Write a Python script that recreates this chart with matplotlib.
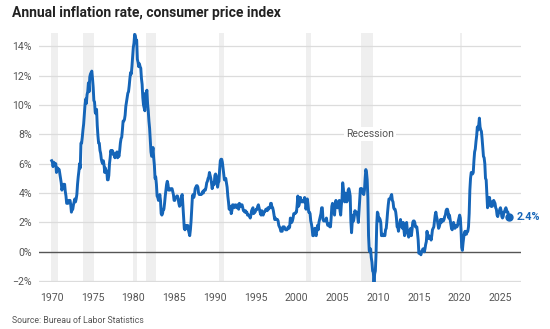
import numpy as np
import matplotlib
matplotlib.use('Agg')
import matplotlib.pyplot as plt

# ---------------------------------------------------------------------------
# data: year-over-year CPI change (%), monthly, starting Jan 1970
# (Oct 2025 was not published, kept as None and skipped when plotting)
# ---------------------------------------------------------------------------
start_year = 1970
cpi_yoy = [
    6.2, 6.1, 5.8, 6.1, 6.0, 6.0, 6.0, 5.4, 5.7, 5.7, 5.6, 5.6,   # 1970
    5.3, 5.0, 4.7, 4.2, 4.4, 4.6, 4.4, 4.6, 4.1, 3.8, 3.3, 3.3,   # 1971
    3.3, 3.5, 3.5, 3.5, 3.2, 2.7, 2.9, 2.9, 3.2, 3.4, 3.6, 3.4,   # 1972
    3.6, 3.9, 4.6, 5.1, 5.5, 6.0, 5.7, 7.4, 7.4, 7.8, 8.3, 8.7,   # 1973
    9.4, 10.0, 10.4, 10.1, 10.7, 10.9, 11.5, 10.9, 11.9, 12.1, 12.2, 12.3,  # 1974
    11.8, 11.2, 10.3, 10.2, 9.5, 9.4, 9.7, 8.6, 7.9, 7.4, 7.4, 6.9,  # 1975
    6.7, 6.3, 6.1, 6.0, 6.2, 5.9, 5.4, 5.7, 5.5, 5.5, 4.9, 4.9,   # 1976
    5.2, 6.0, 6.4, 6.9, 6.7, 6.9, 6.8, 6.6, 6.6, 6.4, 6.7, 6.7,   # 1977
    6.8, 6.4, 6.6, 6.5, 6.9, 7.4, 7.7, 7.8, 8.3, 8.9, 8.9, 9.0,   # 1978
    9.3, 9.9, 10.2, 10.5, 10.8, 10.9, 11.3, 11.8, 12.2, 12.1, 12.6, 13.3,  # 1979
    13.9, 14.2, 14.8, 14.7, 14.4, 14.4, 13.1, 12.9, 12.6, 12.8, 12.6, 12.5,  # 1980
    11.8, 11.4, 10.5, 10.0, 9.8, 9.6, 10.8, 10.8, 11.0, 10.1, 9.6, 8.9,  # 1981
    8.4, 7.6, 6.8, 6.5, 6.7, 7.1, 6.4, 5.9, 5.0, 5.1, 4.6, 3.8,   # 1982
    3.7, 3.5, 3.6, 3.9, 3.5, 2.6, 2.5, 2.6, 2.9, 2.9, 3.3, 3.8,   # 1983
    4.2, 4.6, 4.8, 4.6, 4.2, 4.2, 4.2, 4.3, 4.3, 4.3, 4.1, 3.9,   # 1984
    3.5, 3.5, 3.7, 3.7, 3.8, 3.8, 3.6, 3.3, 3.1, 3.2, 3.5, 3.8,   # 1985
    3.9, 3.1, 2.3, 1.6, 1.5, 1.8, 1.6, 1.6, 1.8, 1.5, 1.3, 1.1,   # 1986
    1.5, 2.1, 3.0, 3.8, 3.9, 3.7, 3.9, 4.3, 4.4, 4.5, 4.5, 4.4,   # 1987
    4.0, 3.9, 3.9, 3.9, 3.9, 4.0, 4.1, 4.0, 4.2, 4.2, 4.2, 4.4,   # 1988
    4.7, 4.8, 5.0, 5.1, 5.4, 5.2, 5.0, 4.7, 4.3, 4.5, 4.7, 4.6,   # 1989
    5.2, 5.3, 5.2, 4.7, 4.4, 4.7, 4.8, 5.6, 6.2, 6.3, 6.3, 6.1,   # 1990
    5.7, 5.3, 4.9, 4.9, 5.0, 4.7, 4.4, 3.8, 3.4, 2.9, 3.0, 3.1,   # 1991
    2.6, 2.8, 3.2, 3.2, 3.0, 3.1, 3.2, 3.1, 3.0, 3.2, 3.0, 2.9,   # 1992
    3.3, 3.2, 3.1, 3.2, 3.2, 3.0, 2.8, 2.8, 2.7, 2.8, 2.7, 2.7,   # 1993
    2.5, 2.5, 2.5, 2.4, 2.3, 2.5, 2.8, 2.9, 3.0, 2.6, 2.7, 2.7,   # 1994
    2.8, 2.9, 2.9, 3.1, 3.2, 3.0, 2.8, 2.6, 2.5, 2.8, 2.6, 2.5,   # 1995
    2.7, 2.7, 2.8, 2.9, 2.9, 2.8, 3.0, 2.9, 3.0, 3.0, 3.3, 3.3,   # 1996
    3.0, 3.0, 2.8, 2.5, 2.2, 2.3, 2.2, 2.2, 2.2, 2.1, 1.8, 1.7,   # 1997
    1.6, 1.4, 1.4, 1.4, 1.7, 1.7, 1.7, 1.6, 1.5, 1.5, 1.5, 1.6,   # 1998
    1.7, 1.6, 1.7, 2.3, 2.1, 2.0, 2.1, 2.3, 2.6, 2.6, 2.6, 2.7,   # 1999
    2.7, 3.2, 3.8, 3.1, 3.2, 3.7, 3.7, 3.4, 3.5, 3.4, 3.4, 3.4,   # 2000
    3.7, 3.5, 2.9, 3.3, 3.6, 3.2, 2.7, 2.7, 2.6, 2.1, 1.9, 1.6,   # 2001
    1.1, 1.1, 1.5, 1.6, 1.2, 1.1, 1.5, 1.8, 1.5, 2.0, 2.2, 2.4,   # 2002
    2.6, 3.0, 3.0, 2.2, 2.1, 2.1, 2.1, 2.2, 2.3, 2.0, 1.8, 1.9,   # 2003
    1.9, 1.7, 1.7, 2.3, 3.1, 3.3, 3.0, 2.7, 2.5, 3.2, 3.5, 3.3,   # 2004
    3.0, 3.0, 3.1, 3.5, 2.8, 2.5, 3.2, 3.6, 4.7, 4.3, 3.5, 3.4,   # 2005
    4.0, 3.6, 3.4, 3.5, 4.2, 4.3, 4.1, 3.8, 2.1, 1.3, 2.0, 2.5,   # 2006
    2.1, 2.4, 2.8, 2.6, 2.7, 2.7, 2.4, 2.0, 2.8, 3.5, 4.3, 4.1,   # 2007
    4.3, 4.0, 4.0, 3.9, 4.2, 5.0, 5.6, 5.4, 4.9, 3.7, 1.1, 0.1,   # 2008
    0.0, 0.2, -0.4, -0.7, -1.3, -1.4, -2.1, -1.5, -1.3, -0.2, 1.8, 2.7,  # 2009
    2.6, 2.1, 2.3, 2.2, 2.0, 1.1, 1.2, 1.1, 1.1, 1.2, 1.1, 1.5,   # 2010
    1.6, 2.1, 2.7, 3.2, 3.6, 3.6, 3.6, 3.8, 3.9, 3.5, 3.4, 3.0,   # 2011
    2.9, 2.9, 2.7, 2.3, 1.7, 1.7, 1.4, 1.7, 2.0, 2.2, 1.8, 1.7,   # 2012
    1.6, 2.0, 1.5, 1.1, 1.4, 1.8, 2.0, 1.5, 1.2, 1.0, 1.2, 1.5,   # 2013
    1.6, 1.1, 1.5, 2.0, 2.1, 2.1, 2.0, 1.7, 1.7, 1.7, 1.3, 0.8,   # 2014
    -0.1, 0.0, -0.1, -0.2, 0.0, 0.1, 0.2, 0.2, 0.0, 0.2, 0.5, 0.7,  # 2015
    1.4, 1.0, 0.9, 1.1, 1.0, 1.0, 0.8, 1.1, 1.5, 1.6, 1.7, 2.1,   # 2016
    2.5, 2.7, 2.4, 2.2, 1.9, 1.6, 1.7, 1.9, 2.2, 2.0, 2.2, 2.1,   # 2017
    2.1, 2.2, 2.4, 2.5, 2.8, 2.9, 2.9, 2.7, 2.3, 2.5, 2.2, 1.9,   # 2018
    1.6, 1.5, 1.9, 2.0, 1.8, 1.6, 1.8, 1.7, 1.7, 1.8, 2.1, 2.3,   # 2019
    2.5, 2.3, 1.5, 0.3, 0.1, 0.6, 1.0, 1.3, 1.4, 1.2, 1.2, 1.4,   # 2020
    1.4, 1.7, 2.6, 4.2, 5.0, 5.4, 5.4, 5.3, 5.4, 6.2, 6.8, 7.0,   # 2021
    7.5, 7.9, 8.5, 8.3, 8.6, 9.1, 8.5, 8.3, 8.2, 7.7, 7.1, 6.5,   # 2022
    6.4, 6.0, 5.0, 4.9, 4.0, 3.0, 3.2, 3.7, 3.7, 3.2, 3.1, 3.4,   # 2023
    3.1, 3.2, 3.5, 3.4, 3.3, 3.0, 2.9, 2.5, 2.4, 2.6, 2.7, 2.9,   # 2024
    3.0, 2.8, 2.4, 2.3, 2.4, 2.7, 2.7, 2.9, 3.0, None, 2.7, 2.7,  # 2025
    2.4,                                                          # 2026
]

# recession periods (decimal years)
rec_start = [1969.92, 1973.83, 1980.0, 1981.5, 1990.5, 2001.17, 2007.92, 2020.08]
rec_end = [1970.83, 1975.17, 1980.5, 1982.83, 1991.17, 2001.83, 2009.42, 2020.25]

yticks = [-2, 0, 2, 4, 6, 8, 10, 12, 14]
xticks = [1970, 1975, 1980, 1985, 1990, 1995, 2000, 2005, 2010, 2015, 2020, 2025]

# ---------------------------------------------------------------------------
# plot
# ---------------------------------------------------------------------------
plt.rcParams['font.family'] = ['Roboto', 'DejaVu Sans']

line_color = '#1565b8'
grey = '#555555'

t = start_year + np.arange(len(cpi_yoy)) / 12.0
vals = np.array([np.nan if v is None else v for v in cpi_yoy])
ok = ~np.isnan(vals)
t, vals = t[ok], vals[ok]

fig = plt.figure(figsize=(5.5, 3.29), dpi=100)
ax = fig.add_axes([0.071, 0.143, 0.876, 0.757])

for s, e in zip(rec_start, rec_end):
    ax.axvspan(s, e, color='#efefef', lw=0, zorder=0)

for y in yticks:
    if y == 0:
        ax.axhline(y, color='#555555', lw=1.0, zorder=1)
    else:
        ax.axhline(y, color='#dcdcdc', lw=0.9, zorder=1)

ax.plot(t, vals, color=line_color, lw=2.1, solid_joinstyle='round', zorder=3)
ax.plot(t[-1], vals[-1], 'o', color=line_color, ms=5, zorder=4)
ax.text(t[-1] + 1.0, vals[-1], '%.1f%%' % vals[-1], color=line_color,
        fontsize=7.8, fontweight='bold', va='center', ha='left')

ax.text(2009.0, 8, 'Recession', color=grey, fontsize=7.5, ha='center', va='center',
        zorder=2, bbox=dict(facecolor='white', edgecolor='none', pad=1.5))

ax.set_xlim(1968.45, 2027.5)
ax.set_ylim(-2.05, 14.9)
ax.set_yticks(yticks)
ax.set_yticklabels(['\u2212' + '%d%%' % -y if y < 0 else '%d%%' % y for y in yticks])
ax.set_xticks(xticks)
ax.tick_params(length=0, labelsize=7.6, colors=grey)
ax.tick_params(axis='y', pad=5)
ax.tick_params(axis='x', pad=8)
for sp in ax.spines.values():
    sp.set_visible(False)

fig.text(0.022, 0.962, 'Annual inflation rate, consumer price index', fontsize=10,
         fontweight='bold', color='#222222', va='center', ha='left')
fig.text(0.022, 0.027, 'Source: Bureau of Labor Statistics', fontsize=6.3,
         color=grey, va='center', ha='left')

fig.savefig('out.png', dpi=100)
